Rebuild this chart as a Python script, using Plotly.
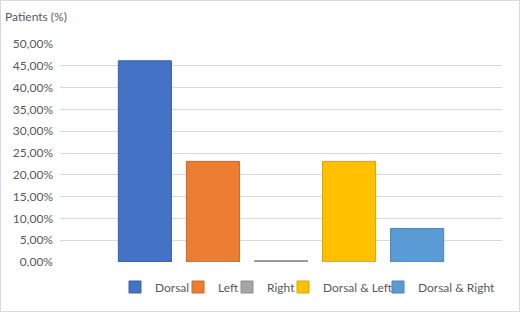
import plotly.graph_objects as go

series = ["Dorsal", "Left", "Right", "Dorsal & Left", "Dorsal & Right"]
values = [46.15, 23.08, 0.3, 23.08, 7.69]
colors = ["#4472C4", "#ED7D31", "#A5A5A5", "#FFC000", "#5B9BD5"]
edge_colors = ["#3A62A8", "#C9692A", "#8C8C8C", "#D9A300", "#4D84B5"]
tick_vals = [0, 5, 10, 15, 20, 25, 30, 35, 40, 45, 50]
tick_text = ["0,00%", "5,00%", "10,00%", "15,00%", "20,00%", "25,00%",
             "30,00%", "35,00%", "40,00%", "45,00%", "50,00%"]
# legend entry text start positions (px)
legend_text_px = [155, 218, 267, 323, 418]

W, H = 520, 312
ml, mr, mt, mb = 60, 18, 44, 50
pw, ph = W - ml - mr, H - mt - mb

fig = go.Figure()
legend_names = ["legend", "legend2", "legend3", "legend4", "legend5"]
for name, v, c, e, lg in zip(series, values, colors, edge_colors, legend_names):
    fig.add_trace(go.Bar(x=["Patients"], y=[v], name=name, legend=lg,
                         marker=dict(color=c, line=dict(color=e, width=1))))

legend_common = dict(orientation="h", xanchor="left", yanchor="middle",
                     y=(H - mb - 287) / ph, font=dict(size=12, color="#595959"),
                     itemwidth=30, bgcolor="rgba(0,0,0,0)", borderwidth=0)
legends = {}
for lg, px in zip(legend_names, legend_text_px):
    legends[lg] = dict(legend_common, x=(px - 40 - ml) / pw)

fig.update_layout(
    width=W, height=H,
    margin=dict(l=ml, r=mr, t=mt, b=mb, autoexpand=False),
    paper_bgcolor="white", plot_bgcolor="white",
    font=dict(family="Lato", size=12, color="#595959"),
    barmode="group", bargap=0.23, bargroupgap=0.22,
    title=dict(text="Patients (%)", xref="container", yref="container",
               x=5 / W, xanchor="left", y=1 - 17 / H, yanchor="middle",
               font=dict(size=12, color="#595959")),
    xaxis=dict(showticklabels=False, showgrid=False, zeroline=False,
               showline=False, ticks=""),
    yaxis=dict(range=[0, 50], tickvals=tick_vals, ticktext=tick_text,
               showgrid=True, gridcolor="#D9D9D9", gridwidth=1,
               zeroline=False, showline=False, ticks="",
               ticklabelstandoff=6, tickfont=dict(size=12, color="#595959")),
    showlegend=True,
    shapes=[dict(type="rect", xref="paper", yref="paper",
                 x0=(0.5 - ml) / pw, x1=(W - 0.5 - ml) / pw,
                 y0=-(mb - 0.5) / ph, y1=1 + (mt - 0.5) / ph,
                 line=dict(color="#D9D9D9", width=1), layer="below")],
    **legends,
)

fig.write_html("out.html", config={"displayModeBar": False},
               post_script="document.body.style.margin='0';")
